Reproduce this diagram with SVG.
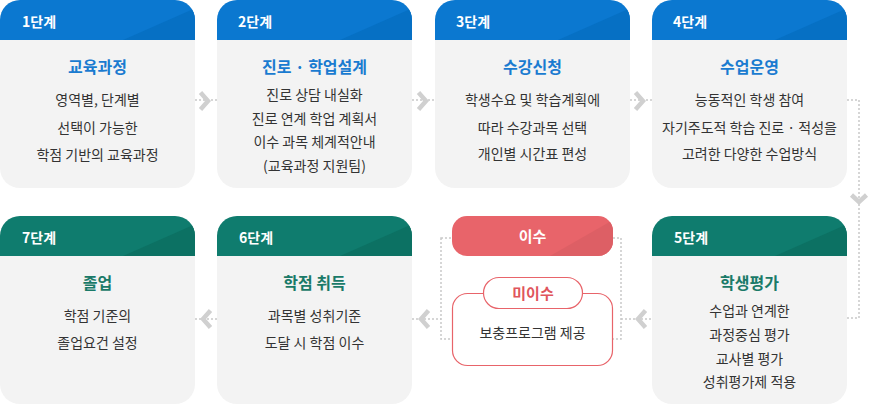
<svg xmlns="http://www.w3.org/2000/svg" xmlns:xlink="http://www.w3.org/1999/xlink" width="870" height="405" viewBox="0 0 870 405">
<style>
text{font-family:"Noto Sans CJK KR","Noto Sans",sans-serif;text-anchor:middle}
.bg{fill:#f3f3f3}
.hb{fill:#0b78d0}
.hbs{fill:#0670c4}
.hg{fill:#0f7c6e}
.hgs{fill:#0c7163}
.st{fill:#fff;font-size:14px;font-weight:700;text-anchor:start}
.tb{fill:#1a7bd0;font-size:16px;font-weight:700}
.tg{fill:#1a7a68;font-size:16px;font-weight:700}
.bd{fill:#333;font-size:14px}
.dot{fill:none;stroke:#c9c9c9;stroke-width:1.5;stroke-dasharray:2 2}
.chev{fill:none;stroke:#d0d0d0;stroke-width:4.5;stroke-linejoin:miter}
</style>
<defs>
<path id="hd" d="M0,40V20A20,20 0 0 1 20,0H175A20,20 0 0 1 195,20V40Z"/>
<clipPath id="hc"><use xlink:href="#hd"/></clipPath>
<rect id="cb" x="0" y="0" width="195" height="188" rx="20" ry="20"/>
<path id="cr" d="M-4.5,-8.5L3,0L-4.5,8.5"/>
<path id="cl" d="M4.5,-8.5L-3,0L4.5,8.5"/>
<path id="cd" d="M-7.5,-4L0,3L7.5,-4"/>
</defs>

<g id="connectors">
<line class="dot" x1="195" y1="100" x2="217" y2="100"/>
<line class="dot" x1="412" y1="100" x2="435" y2="100"/>
<line class="dot" x1="630" y1="100" x2="652" y2="100"/>
<polyline class="dot" points="847,100 859,100 859,318 847,318"/>
<line class="dot" x1="621" y1="319" x2="652" y2="319"/>
<line class="dot" x1="412" y1="319" x2="441" y2="319"/>
<line class="dot" x1="195" y1="319" x2="217" y2="319"/>
<rect class="dot" x="441" y="238" width="180" height="101"/>
<use xlink:href="#cr" class="chev" x="205" y="101"/>
<use xlink:href="#cr" class="chev" x="423" y="101"/>
<use xlink:href="#cr" class="chev" x="640" y="101"/>
<use xlink:href="#cd" class="chev" x="859" y="199"/>
<use xlink:href="#cl" class="chev" x="641" y="319"/>
<use xlink:href="#cl" class="chev" x="424" y="319"/>
<use xlink:href="#cl" class="chev" x="206" y="319"/>
</g>

<g id="step1" transform="translate(0,0)">
<use xlink:href="#cb" class="bg"/>
<use xlink:href="#hd" class="hb"/>
<polygon class="hbs" clip-path="url(#hc)" points="123,40 200,6 200,40"/>
<text class="st" x="22" y="27">1단계</text>
<text class="tb" x="97.5" y="73">교육과정</text>
<text class="bd" x="97.5" y="105">영역별, 단계별</text>
<text class="bd" x="97.5" y="133">선택이 가능한</text>
<text class="bd" x="97.5" y="160">학점 기반의 교육과정</text>
</g>

<g id="step2" transform="translate(217,0)">
<use xlink:href="#cb" class="bg"/>
<use xlink:href="#hd" class="hb"/>
<polygon class="hbs" clip-path="url(#hc)" points="123,40 200,6 200,40"/>
<text class="st" x="21" y="27">2단계</text>
<text class="tb" x="97.5" y="73">진로 · 학업설계</text>
<text class="bd" x="97.5" y="100">진로 상담 내실화</text>
<text class="bd" x="97.5" y="124">진로 연계 학업 계획서</text>
<text class="bd" x="97.5" y="147">이수 과목 체계적안내</text>
<text class="bd" x="97.5" y="171">(교육과정 지원팀)</text>
</g>

<g id="step3" transform="translate(435,0)">
<use xlink:href="#cb" class="bg"/>
<use xlink:href="#hd" class="hb"/>
<polygon class="hbs" clip-path="url(#hc)" points="123,40 200,6 200,40"/>
<text class="st" x="21" y="27">3단계</text>
<text class="tb" x="97.5" y="73">수강신청</text>
<text class="bd" x="97.5" y="105">학생수요 및 학습계획에</text>
<text class="bd" x="97.5" y="133">따라 수강과목 선택</text>
<text class="bd" x="97.5" y="159">개인별 시간표 편성</text>
</g>

<g id="step4" transform="translate(652,0)">
<use xlink:href="#cb" class="bg"/>
<use xlink:href="#hd" class="hb"/>
<polygon class="hbs" clip-path="url(#hc)" points="123,40 200,6 200,40"/>
<text class="st" x="21" y="27">4단계</text>
<text class="tb" x="97.5" y="73">수업운영</text>
<text class="bd" x="97.5" y="105">능동적인 학생 참여</text>
<text class="bd" x="97.5" y="133">자기주도적 학습 진로 · 적성을</text>
<text class="bd" x="97.5" y="159">고려한 다양한 수업방식</text>
</g>

<g id="step5" transform="translate(652,216)">
<use xlink:href="#cb" class="bg"/>
<use xlink:href="#hd" class="hg"/>
<polygon class="hgs" clip-path="url(#hc)" points="123,40 200,6 200,40"/>
<text class="st" x="22" y="27">5단계</text>
<text class="tg" x="97.5" y="73">학생평가</text>
<text class="bd" x="97.5" y="100">수업과 연계한</text>
<text class="bd" x="97.5" y="124">과정중심 평가</text>
<text class="bd" x="97.5" y="148">교사별 평가</text>
<text class="bd" x="97.5" y="171">성취평가제 적용</text>
</g>

<g id="step6" transform="translate(217,216)">
<use xlink:href="#cb" class="bg"/>
<use xlink:href="#hd" class="hg"/>
<polygon class="hgs" clip-path="url(#hc)" points="123,40 200,6 200,40"/>
<text class="st" x="22" y="27">6단계</text>
<text class="tg" x="97.5" y="73">학점 취득</text>
<text class="bd" x="97.5" y="105">과목별 성취기준</text>
<text class="bd" x="97.5" y="132">도달 시 학점 이수</text>
</g>

<g id="step7" transform="translate(0,216)">
<use xlink:href="#cb" class="bg"/>
<use xlink:href="#hd" class="hg"/>
<polygon class="hgs" clip-path="url(#hc)" points="123,40 200,6 200,40"/>
<text class="st" x="22" y="27">7단계</text>
<text class="tg" x="97.5" y="73">졸업</text>
<text class="bd" x="97.5" y="105">학점 기준의</text>
<text class="bd" x="97.5" y="132">졸업요건 설정</text>
</g>

<g id="pass">
<clipPath id="pc"><rect x="452" y="216" width="161" height="40" rx="15" ry="15"/></clipPath>
<rect x="452" y="216" width="161" height="40" rx="15" ry="15" fill="#e8646a"/>
<polygon points="550,256 620,216 620,256" fill="#dd5f65" clip-path="url(#pc)"/>
<text x="532.5" y="241.5" fill="#fff" font-size="15" font-weight="700">이수</text>
</g>

<g id="fail">
<rect x="452.5" y="293.5" width="160" height="72" rx="15" ry="15" fill="#fff" stroke="#e8646a" stroke-width="1.2"/>
<rect x="483.5" y="277.5" width="99" height="31" rx="15.5" ry="15.5" fill="#fff" stroke="#e8646a" stroke-width="1.2"/>
<text x="533" y="298.5" fill="#e0555c" font-size="15" font-weight="700">미이수</text>
<text x="532.5" y="338" class="bd">보충프로그램 제공</text>
</g>
</svg>
